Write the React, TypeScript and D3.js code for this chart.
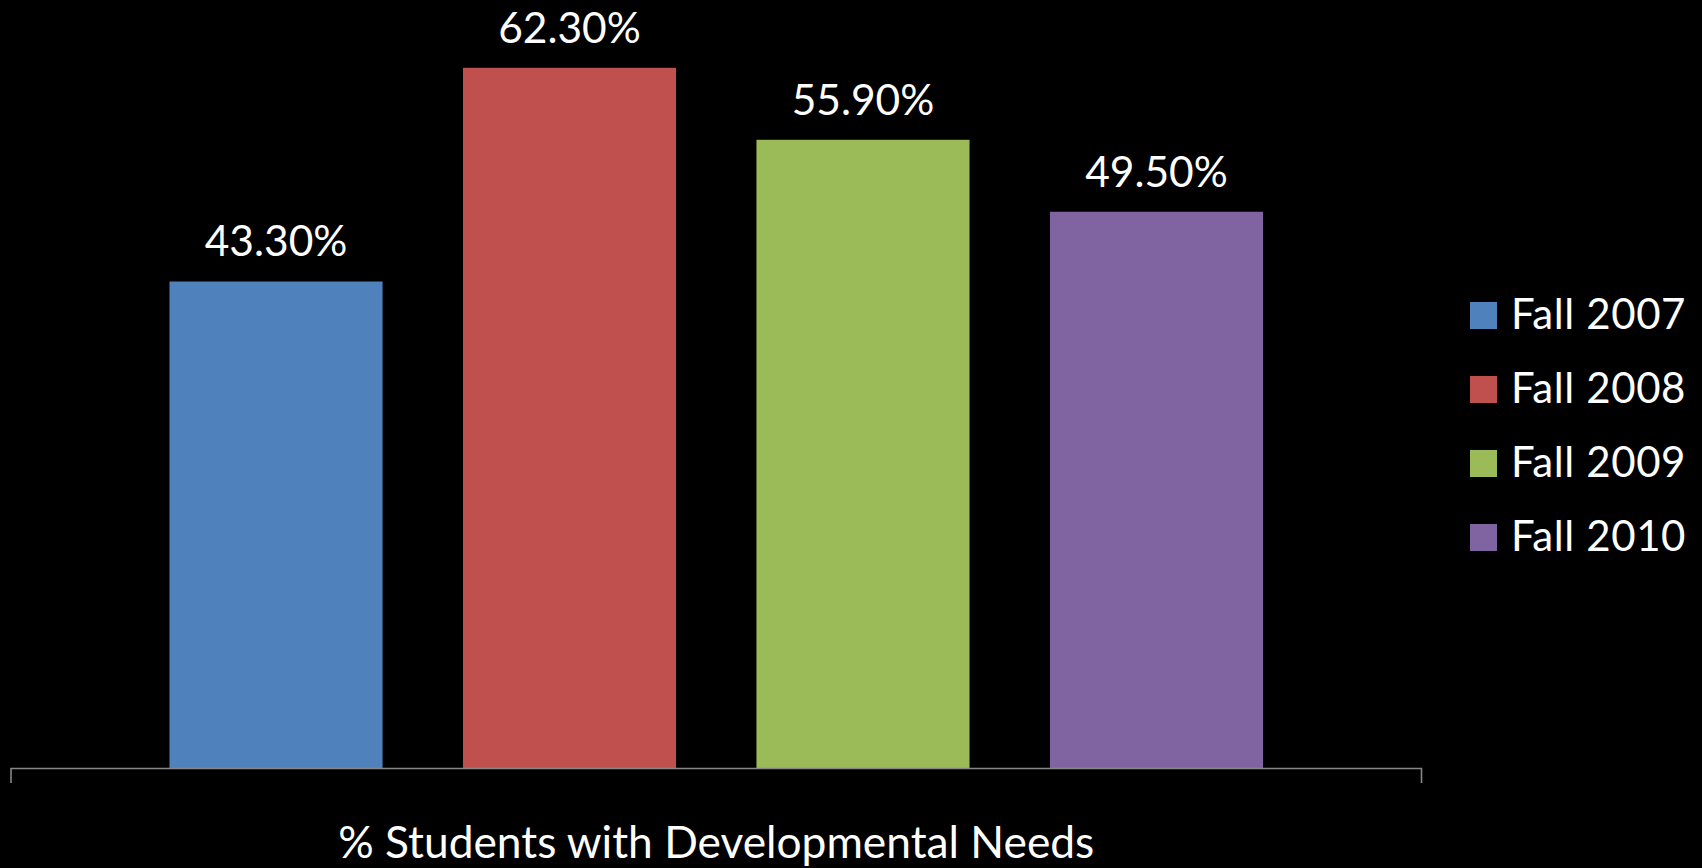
import React from "react";
import * as d3 from "d3";

const series = ["Fall 2007", "Fall 2008", "Fall 2009", "Fall 2010"];
const values = [43.3, 62.3, 55.9, 49.5];
const labels = ["43.30%", "62.30%", "55.90%", "49.50%"];
const colors = ["#4F81BD", "#C0504D", "#9BBB59", "#8064A2"];
const categoryTitle = "% Students with Developmental Needs";

const W = 1702;
const H = 868;
const FONT = "Lato, 'Open Sans', sans-serif";

export default function App() {
  const axisLeft = 11;
  const axisRight = 1421.5;
  const baseY = 768.5;

  const x = d3
    .scaleBand<string>()
    .domain(series)
    .range([axisLeft, axisRight])
    .paddingInner(0.274)
    .paddingOuter(0.54);

  const y = d3.scaleLinear().domain([0, 70]).range([baseY, baseY - 787.3]);

  return (
    <div style={{ position: "fixed", left: 0, top: 0, width: W, height: H, background: "#000" }}>
      <svg width={W} height={H} style={{ display: "block" }}>
        <rect x={0} y={0} width={W} height={H} fill="#000" />
        {series.map((s, i) => (
          <g key={s}>
            <rect
              x={x(s)!}
              y={y(values[i])}
              width={x.bandwidth()}
              height={baseY - y(values[i])}
              fill={colors[i]}
            />
            <text
              x={x(s)! + x.bandwidth() / 2}
              y={y(values[i]) - 25}
              textAnchor="middle"
              fill="#fff"
              fontFamily={FONT}
              fontSize={42.5}
            >
              {labels[i]}
            </text>
          </g>
        ))}
        <path
          d={`M${axisLeft},783V${baseY}H${axisRight}V783`}
          fill="none"
          stroke="#878787"
          strokeWidth={1.6}
        />
        <text
          x={(axisLeft + axisRight) / 2}
          y={858}
          textAnchor="middle"
          fill="#fff"
          fontFamily={FONT}
          fontSize={44.3}
        >
          {categoryTitle}
        </text>
        {series.map((s, i) => (
          <g key={"lg" + s}>
            <rect x={1470} y={302 + i * 74} width={27} height={27} fill={colors[i]} />
            <text x={1511} y={328.5 + i * 74} fill="#fff" fontFamily={FONT} fontSize={42} letterSpacing={0.6}>
              {s}
            </text>
          </g>
        ))}
      </svg>
    </div>
  );
}
